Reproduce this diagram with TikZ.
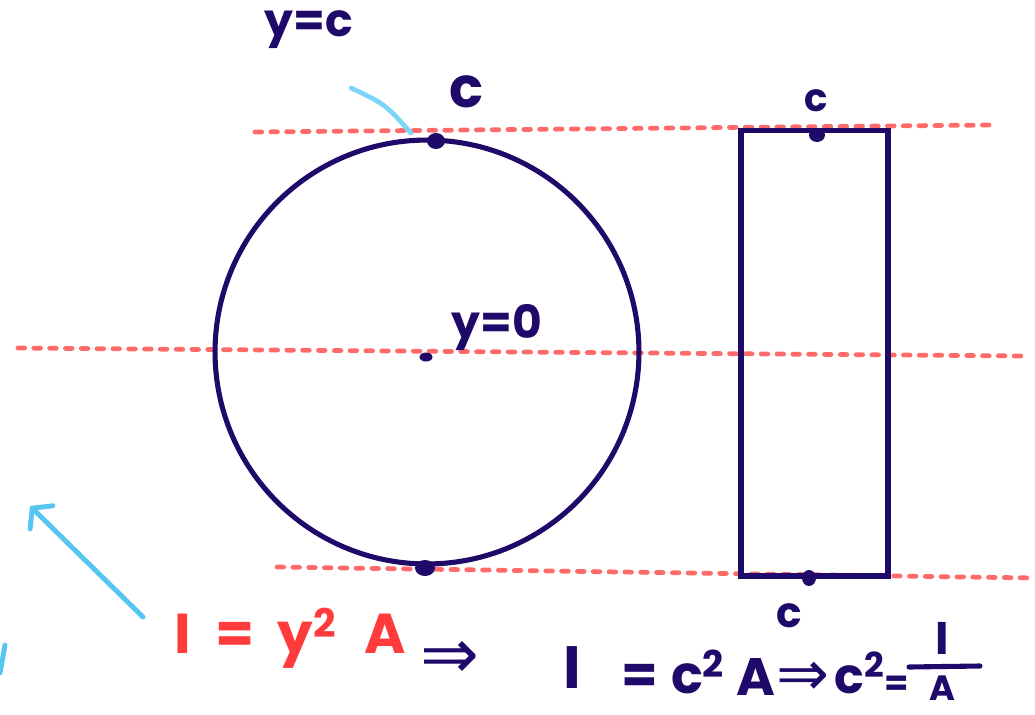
\documentclass[tikz,border=0pt]{standalone}
\usepackage{fontspec}
\setmainfont{Poppins}
\newfontfamily\arrowfont{DejaVu Sans}
\usetikzlibrary{arrows.meta}
\definecolor{navy}{RGB}{32,10,105}
\definecolor{salmon}{RGB}{255,107,107}
\definecolor{redink}{RGB}{255,59,59}
\definecolor{skyink}{RGB}{125,214,247}
\definecolor{blueink}{RGB}{85,198,240}
\tikzset{
  refline/.style={salmon, line width=2.7pt, line cap=round, dash pattern=on 3.8pt off 5.2pt},
  ink/.style={navy, line width=2.9pt},
  dotmark/.style={navy, fill=navy},
  lbl/.style={navy, font=\bfseries\fontsize{26}{28}\selectfont, inner sep=0pt},
  eq/.style={navy, font=\bfseries\fontsize{30}{32}\selectfont, inner sep=0pt, anchor=base},
  eqarrow/.style={navy, font=\arrowfont\fontsize{36}{36}\selectfont, inner sep=0pt, anchor=base},
  redlbl/.style={redink, font=\bfseries\fontsize{32}{34}\selectfont, inner sep=0pt},
}
\begin{document}
\begin{tikzpicture}[x=0.02cm, y=-0.02cm]
\useasboundingbox (0,0) rectangle (1035,714);
% reference lines
\coordinate (t1) at (255,132); \coordinate (t2) at (990,125);
\coordinate (m1) at (18,348);  \coordinate (m2) at (1025,356);
\coordinate (b1) at (277,567); \coordinate (b2) at (1035,578);
\draw[refline] (t1) -- (t2);
\draw[refline] (m1) -- (m2);
\draw[refline] (b1) -- (b2);
% circle
\coordinate (cc) at (427,352);
\draw[ink] (cc) circle[radius=4.24cm];
\fill[dotmark] (436,141) ellipse[x radius=0.18cm, y radius=0.16cm];
\fill[dotmark] (426,357) ellipse[x radius=0.13cm, y radius=0.09cm];
\fill[dotmark] (425,568) ellipse[x radius=0.2cm, y radius=0.16cm];
% rectangle
\node[ink, draw, minimum width=2.94cm, minimum height=8.92cm, inner sep=0pt] (rect) at (814.5,353) {};
\fill[dotmark] (817,135) ellipse[x radius=0.16cm, y radius=0.14cm];
\fill[dotmark] (809,578) ellipse[x radius=0.14cm, y radius=0.16cm];
% labels
\node[lbl] (yc) at (309,30) {y=c};
\node[lbl, font=\bfseries\fontsize{32}{34}\selectfont] (ctop) at (467,92) {c};
\node[lbl] (y0) at (497,328) {y=0};
\node[lbl, font=\bfseries\fontsize{22}{24}\selectfont] (crt) at (816,101) {c};
\node[lbl, font=\bfseries\fontsize{24}{26}\selectfont] (crb) at (789,616) {c};
% light blue pointer
\coordinate (p1) at (351,88); \coordinate (p2) at (411,133);
\draw[skyink, line width=2.7pt, line cap=round] (p1) .. controls (385,104) .. (p2);
% blue arrow
\coordinate (a1) at (143,617); \coordinate (a2) at (30,506);
\draw[blueink, line width=2.8pt, line cap=round, -{Straight Barb[length=2.6mm, width=6.5mm, line cap=round]}] (a1) -- (a2);
\coordinate (s1) at (5,645); \coordinate (s2) at (0,673);
\draw[blueink, line width=2.8pt, line cap=round] (s1) -- (s2);
% red formula
\node[redlbl] (f1) at (290,638) {I\hspace{0.45em}=\hspace{0.4em}y\textsuperscript{2}\hspace{0.5em}A};
\node[eqarrow, font=\arrowfont\fontsize{40}{40}\selectfont, anchor=center] (imp1) at (450,660) {⇒};
% navy formula
\node[eq, font=\bfseries\fontsize{34}{36}\selectfont] (fI) at (572,688) {I};
\node[eq] (fe1) at (640,693) {=};
\node[eq] (fc1) at (698,693) {c\textsuperscript{2}};
\node[eq] (fA1) at (756,695) {A};
\node[eqarrow] (imp2) at (803,695) {⇒};
\node[eq, font=\bfseries\fontsize{28}{30}\selectfont] (fc2) at (860,693) {c\textsuperscript{2}};
\node[eq, font=\bfseries\fontsize{20}{22}\selectfont] (fe2) at (897,695) {=};
\node[eq, font=\bfseries\fontsize{26}{28}\selectfont] (fnum) at (942,654) {I};
\node[eq, font=\bfseries\fontsize{20}{22}\selectfont] (fden) at (942,700) {A};
\coordinate (bar1) at (909,667); \coordinate (bar2) at (980,666);
\draw[navy, line width=2.9pt, line cap=round] (bar1) -- (bar2);
\end{tikzpicture}
\end{document}
